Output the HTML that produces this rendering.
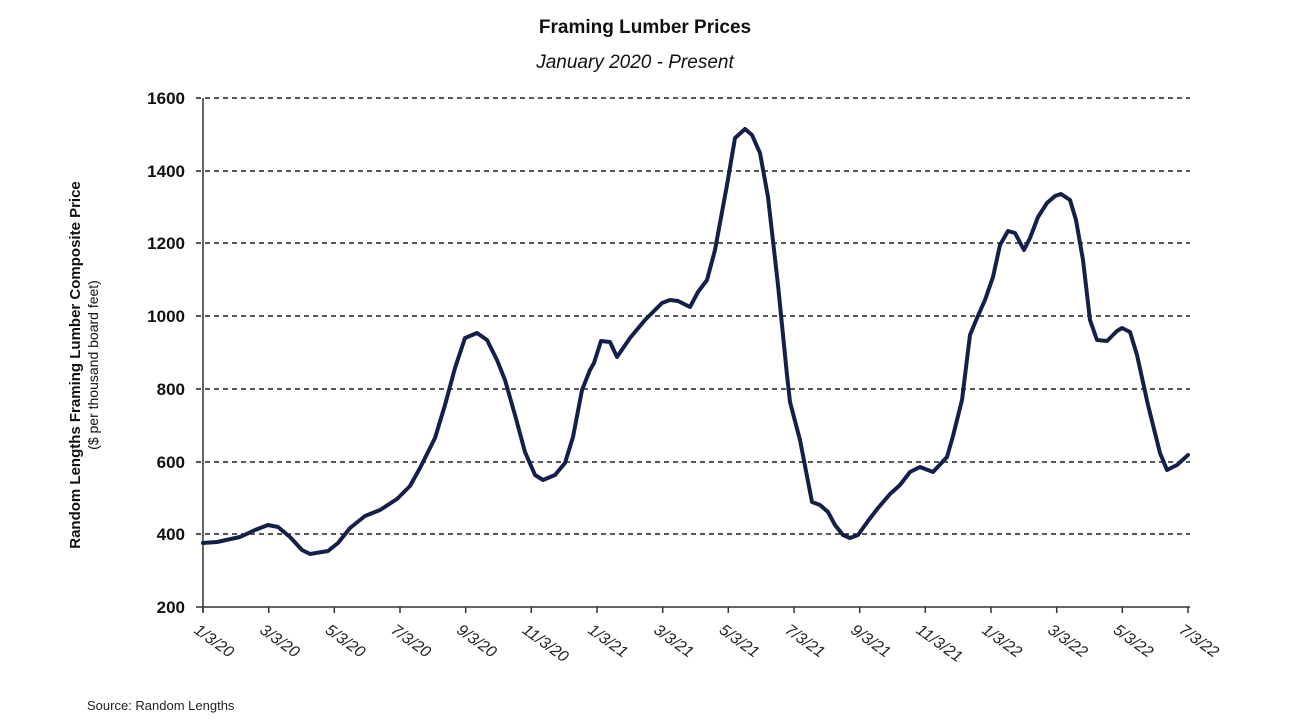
<!DOCTYPE html>
<html><head><meta charset="utf-8"><style>
body{margin:0;background:#fff;}
svg{display:block;font-family:"Liberation Sans",sans-serif;}
</style></head><body>
<svg width="1290" height="726" viewBox="0 0 1290 726">
<text x="645" y="33" text-anchor="middle" font-size="19" font-weight="bold" fill="#111">Framing Lumber Prices</text>
<text x="635" y="68" text-anchor="middle" font-size="19" font-style="italic" fill="#111">January 2020 - Present</text>
<g stroke="#222" stroke-width="1.6" stroke-dasharray="5,4">
<line x1="196" y1="98" x2="1190" y2="98"/>
<line x1="196" y1="171" x2="1190" y2="171"/>
<line x1="196" y1="243" x2="1190" y2="243"/>
<line x1="196" y1="316" x2="1190" y2="316"/>
<line x1="196" y1="389" x2="1190" y2="389"/>
<line x1="196" y1="462" x2="1190" y2="462"/>
<line x1="196" y1="534" x2="1190" y2="534"/>
</g>
<line x1="203" y1="98" x2="203" y2="612" stroke="#333" stroke-width="1.5"/>
<line x1="196" y1="607" x2="1190" y2="607" stroke="#333" stroke-width="1.5"/>
<g font-size="17" font-weight="bold" text-anchor="end" fill="#111">
<text x="185" y="104">1600</text><text x="185" y="177">1400</text><text x="185" y="249">1200</text>
<text x="185" y="322">1000</text><text x="185" y="395">800</text><text x="185" y="468">600</text>
<text x="185" y="540">400</text><text x="185" y="613">200</text>
</g>
<g stroke="#333" stroke-width="1.5" id="ticks"></g>
<g font-size="16" font-style="italic" fill="#222">
<script>
</script>
</g>
<g id="xl" font-size="16" font-style="italic" fill="#222"></g>
<text transform="translate(80,365) rotate(-90)" text-anchor="middle" font-size="15" font-weight="bold" fill="#111">Random Lengths  Framing Lumber Composite Price</text>
<text transform="translate(98,365) rotate(-90)" text-anchor="middle" font-size="14" fill="#111">($ per thousand board feet)</text>
<text x="87" y="710" font-size="13" fill="#222">Source: Random Lengths</text>
<polyline fill="none" stroke="#14204a" stroke-width="4" stroke-linejoin="round" stroke-linecap="round" points="203,543 217,542 240,537 255,530 268,525 278,527 290,537 302,550 310,554 328,551 338,543 350,528 365,516 380,510 397,499 410,486 420,468 435,438 445,405 455,368 465,338 477,333 487,340 497,360 505,380 515,415 525,452 535,475 543,480 555,475 565,463 573,437 582,390 590,370 594,363 601,341 610,342 617,357 630,338 645,320 652,313 662,303 670,300 678,301 690,307 698,292 707,280 715,250 727,185 735,138 745,129 752,135 760,153 768,197 778,285 787,375 790,402 800,440 812,502 820,505 828,512 835,525 843,535 850,538 858,535 868,521 878,508 890,494 900,485 910,472 920,467 933,472 947,457 953,436 962,400 970,335 977,318 985,300 993,277 1000,245 1008,231 1015,233 1024,250 1030,238 1038,217 1047,203 1055,196 1061,194 1070,200 1076,220 1083,260 1090,320 1097,340 1107,341 1117,331 1122,328 1130,332 1137,355 1148,405 1160,453 1167,470 1177,465 1188,455"/>
<g stroke="#333" stroke-width="1.5">
<line x1="203" y1="607" x2="203" y2="613"/><line x1="268.7" y1="607" x2="268.7" y2="613"/><line x1="334.3" y1="607" x2="334.3" y2="613"/><line x1="400" y1="607" x2="400" y2="613"/><line x1="465.7" y1="607" x2="465.7" y2="613"/><line x1="531.3" y1="607" x2="531.3" y2="613"/><line x1="597" y1="607" x2="597" y2="613"/><line x1="662.7" y1="607" x2="662.7" y2="613"/><line x1="728.3" y1="607" x2="728.3" y2="613"/><line x1="794" y1="607" x2="794" y2="613"/><line x1="859.7" y1="607" x2="859.7" y2="613"/><line x1="925.3" y1="607" x2="925.3" y2="613"/><line x1="991" y1="607" x2="991" y2="613"/><line x1="1056.7" y1="607" x2="1056.7" y2="613"/><line x1="1122.3" y1="607" x2="1122.3" y2="613"/><line x1="1188" y1="607" x2="1188" y2="613"/>
</g>
<g font-size="16" font-style="italic" fill="#222">
<text transform="translate(193,632) rotate(36)">1/3/20</text>
<text transform="translate(258.7,632) rotate(36)">3/3/20</text>
<text transform="translate(324.3,632) rotate(36)">5/3/20</text>
<text transform="translate(390,632) rotate(36)">7/3/20</text>
<text transform="translate(455.7,632) rotate(36)">9/3/20</text>
<text transform="translate(521.3,632) rotate(36)">11/3/20</text>
<text transform="translate(587,632) rotate(36)">1/3/21</text>
<text transform="translate(652.7,632) rotate(36)">3/3/21</text>
<text transform="translate(718.3,632) rotate(36)">5/3/21</text>
<text transform="translate(784,632) rotate(36)">7/3/21</text>
<text transform="translate(849.7,632) rotate(36)">9/3/21</text>
<text transform="translate(915.3,632) rotate(36)">11/3/21</text>
<text transform="translate(981,632) rotate(36)">1/3/22</text>
<text transform="translate(1046.7,632) rotate(36)">3/3/22</text>
<text transform="translate(1112.3,632) rotate(36)">5/3/22</text>
<text transform="translate(1178,632) rotate(36)">7/3/22</text>
</g>
</svg>
</body></html>
